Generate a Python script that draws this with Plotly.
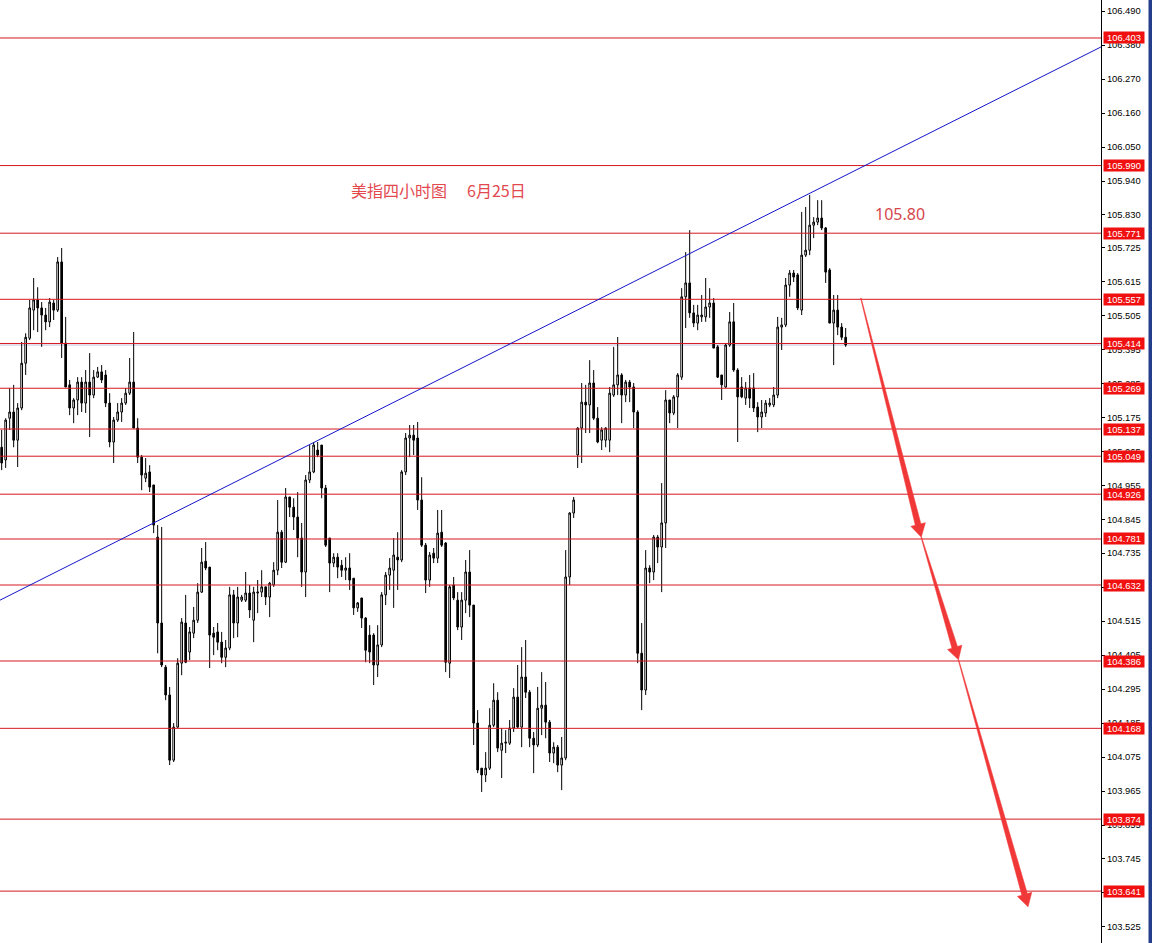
import plotly.graph_objects as go

# ---------------- data ----------------
opens = [105.078, 105.037, 105.172, 105.192, 105.101, 105.205, 105.350, 105.431, 105.522, 105.555,
         105.529, 105.506, 105.484, 105.545, 105.522, 105.678, 105.415, 105.280, 105.205, 105.231,
         105.289, 105.221, 105.289, 105.247, 105.305, 105.322, 105.312, 105.221, 105.095, 105.166,
         105.192, 105.221, 105.253, 105.289, 105.140, 105.046, 104.978, 104.998, 104.956, 104.787,
         104.509, 104.366, 104.276, 104.065, 104.172, 104.379, 104.509, 104.415, 104.476, 104.518,
         104.609, 104.709, 104.690, 104.476, 104.480, 104.447, 104.398, 104.428, 104.600, 104.509,
         104.583, 104.583, 104.606, 104.518, 104.606, 104.609, 104.626, 104.593, 104.632, 104.680,
         104.803, 104.706, 104.917, 104.884, 104.852, 104.784, 104.674, 104.972, 104.998, 105.069,
         105.085, 104.946, 104.784, 104.703, 104.722, 104.696, 104.680, 104.687, 104.654, 104.558,
         104.590, 104.525, 104.470, 104.470, 104.373, 104.438, 104.600, 104.664, 104.680, 104.722,
         104.713, 104.998, 105.108, 105.117, 105.108, 104.907, 104.761, 104.648, 104.735, 104.719,
         104.803, 104.768, 104.379, 104.632, 104.583, 104.496, 104.583, 104.674, 104.567, 104.185,
         104.039, 104.017, 104.039, 104.178, 104.259, 104.097, 104.120, 104.120, 104.169, 104.269,
         104.172, 104.334, 104.285, 104.136, 104.114, 104.233, 104.243, 104.188, 104.088, 104.107,
         104.049, 104.072, 104.658, 104.865, 105.053, 105.140, 105.224, 105.215, 105.286, 105.172,
         105.101, 105.101, 105.101, 105.247, 105.280, 105.312, 105.247, 105.289, 105.273, 105.192,
         104.411, 104.292, 104.687, 104.674, 104.787, 104.755, 104.833, 105.231, 105.189, 105.241,
         105.305, 105.565, 105.610, 105.513, 105.480, 105.500, 105.500, 105.532, 105.545, 105.403,
         105.312, 105.273, 105.409, 105.484, 105.328, 105.273, 105.237, 105.270, 105.270, 105.208,
         105.176, 105.189, 105.215, 105.215, 105.247, 105.467, 105.474, 105.603, 105.642, 105.636,
         105.522, 105.700, 105.716, 105.797, 105.807, 105.820, 105.788, 105.652, 105.480, 105.522,
         105.467, 105.434]
highs = [105.134, 105.172, 105.270, 105.280, 105.221, 105.419, 105.447, 105.555, 105.626, 105.596,
         105.548, 105.529, 105.561, 105.555, 105.694, 105.723, 105.500, 105.296, 105.237, 105.305,
         105.305, 105.328, 105.383, 105.328, 105.338, 105.344, 105.328, 105.253, 105.176, 105.221,
         105.237, 105.270, 105.367, 105.451, 105.172, 105.053, 105.043, 105.020, 104.956, 104.826,
         104.820, 104.373, 104.302, 104.185, 104.395, 104.525, 104.600, 104.496, 104.561, 104.638,
         104.752, 104.771, 104.690, 104.496, 104.509, 104.480, 104.454, 104.626, 104.616, 104.626,
         104.600, 104.674, 104.632, 104.626, 104.648, 104.680, 104.626, 104.642, 104.706, 104.907,
         104.810, 104.946, 104.917, 104.913, 104.933, 104.833, 104.988, 105.085, 105.095, 105.095,
         105.085, 104.956, 104.784, 104.735, 104.735, 104.713, 104.722, 104.735, 104.654, 104.577,
         104.590, 104.528, 104.502, 104.476, 104.502, 104.609, 104.674, 104.719, 104.784, 104.803,
         105.004, 105.124, 105.150, 105.150, 105.160, 104.981, 104.768, 104.739, 104.752, 104.875,
         104.875, 104.771, 104.632, 104.658, 104.609, 104.609, 104.713, 104.745, 104.567, 104.227,
         104.039, 104.091, 104.233, 104.314, 104.285, 104.169, 104.162, 104.195, 104.298, 104.373,
         104.431, 104.454, 104.292, 104.156, 104.302, 104.350, 104.318, 104.195, 104.123, 104.114,
         104.140, 104.745, 104.868, 104.917, 105.143, 105.286, 105.280, 105.360, 105.328, 105.208,
         105.143, 105.143, 105.273, 105.403, 105.435, 105.318, 105.296, 105.296, 105.286, 105.198,
         104.509, 104.745, 104.696, 104.794, 104.794, 104.962, 105.263, 105.231, 105.247, 105.318,
         105.593, 105.710, 105.781, 105.539, 105.539, 105.571, 105.626, 105.593, 105.561, 105.409,
         105.312, 105.415, 105.516, 105.545, 105.334, 105.305, 105.289, 105.312, 105.318, 105.224,
         105.231, 105.231, 105.237, 105.273, 105.500, 105.497, 105.626, 105.652, 105.652, 105.642,
         105.840, 105.856, 105.895, 105.823, 105.878, 105.878, 105.791, 105.658, 105.571, 105.571,
         105.480, 105.464]
lows = [105.004, 105.011, 105.134, 105.078, 105.014, 105.198, 105.312, 105.425, 105.457, 105.451,
        105.403, 105.457, 105.467, 105.490, 105.516, 105.367, 105.273, 105.182, 105.156, 105.182,
        105.192, 105.189, 105.111, 105.237, 105.302, 105.286, 105.208, 105.078, 105.027, 105.160,
        105.160, 105.215, 105.247, 105.140, 105.027, 104.939, 104.965, 104.933, 104.800, 104.411,
        104.366, 104.259, 104.049, 104.059, 104.169, 104.340, 104.379, 104.389, 104.460, 104.509,
        104.606, 104.680, 104.363, 104.405, 104.421, 104.379, 104.366, 104.421, 104.460, 104.463,
        104.577, 104.577, 104.525, 104.447, 104.541, 104.593, 104.567, 104.528, 104.626, 104.664,
        104.687, 104.703, 104.852, 104.810, 104.722, 104.626, 104.593, 104.962, 104.994, 105.046,
        104.913, 104.755, 104.609, 104.690, 104.654, 104.658, 104.648, 104.616, 104.535, 104.545,
        104.493, 104.382, 104.379, 104.308, 104.334, 104.431, 104.567, 104.616, 104.558, 104.616,
        104.706, 104.988, 105.046, 105.053, 104.875, 104.755, 104.606, 104.626, 104.703, 104.703,
        104.755, 104.350, 104.331, 104.583, 104.486, 104.454, 104.541, 104.528, 104.114, 104.023,
        103.962, 103.994, 104.033, 104.172, 104.091, 104.007, 104.088, 104.114, 104.156, 104.169,
        104.107, 104.266, 104.107, 104.023, 104.107, 104.146, 104.136, 104.059, 104.055, 104.026,
        103.968, 104.065, 104.632, 104.849, 105.011, 105.027, 105.124, 105.124, 105.166, 105.091,
        105.069, 105.078, 105.062, 105.241, 105.247, 105.156, 105.224, 105.224, 105.140, 104.379,
        104.227, 104.276, 104.638, 104.648, 104.703, 104.609, 104.752, 105.156, 105.182, 105.140,
        105.296, 105.464, 105.497, 105.467, 105.457, 105.484, 105.484, 105.497, 105.399, 105.302,
        105.231, 105.270, 105.403, 105.322, 105.095, 105.237, 105.215, 105.205, 105.192, 105.127,
        105.140, 105.176, 105.208, 105.208, 105.237, 105.393, 105.467, 105.565, 105.613, 105.522,
        105.506, 105.694, 105.700, 105.755, 105.797, 105.781, 105.610, 105.480, 105.344, 105.441,
        105.425, 105.403]
closes = [105.027, 105.166, 105.192, 105.101, 105.205, 105.350, 105.434, 105.529, 105.555, 105.529,
          105.506, 105.484, 105.548, 105.522, 105.678, 105.415, 105.273, 105.205, 105.231, 105.289,
          105.221, 105.289, 105.247, 105.305, 105.322, 105.296, 105.221, 105.095, 105.166, 105.192,
          105.221, 105.253, 105.289, 105.140, 105.046, 104.988, 104.994, 104.949, 104.826, 104.509,
          104.373, 104.276, 104.065, 104.172, 104.379, 104.512, 104.382, 104.480, 104.518, 104.609,
          104.706, 104.687, 104.470, 104.463, 104.447, 104.398, 104.428, 104.600, 104.509, 104.593,
          104.593, 104.606, 104.551, 104.609, 104.609, 104.626, 104.593, 104.638, 104.680, 104.803,
          104.706, 104.917, 104.884, 104.852, 104.784, 104.674, 104.972, 104.998, 105.085, 105.053,
          104.946, 104.761, 104.703, 104.722, 104.690, 104.680, 104.687, 104.648, 104.558, 104.574,
          104.525, 104.421, 104.415, 104.373, 104.438, 104.600, 104.664, 104.687, 104.729, 104.713,
          104.998, 105.108, 105.117, 105.101, 104.907, 104.761, 104.648, 104.729, 104.719, 104.800,
          104.761, 104.382, 104.626, 104.590, 104.496, 104.583, 104.674, 104.567, 104.185, 104.033,
          104.017, 104.039, 104.178, 104.259, 104.104, 104.120, 104.123, 104.169, 104.269, 104.172,
          104.334, 104.285, 104.136, 104.114, 104.233, 104.243, 104.188, 104.088, 104.107, 104.049,
          104.072, 104.658, 104.865, 104.907, 105.140, 105.224, 105.215, 105.286, 105.172, 105.095,
          105.134, 105.140, 105.253, 105.280, 105.312, 105.247, 105.289, 105.273, 105.192, 104.411,
          104.292, 104.687, 104.674, 104.787, 104.755, 104.833, 105.231, 105.189, 105.241, 105.312,
          105.565, 105.610, 105.513, 105.480, 105.506, 105.506, 105.532, 105.545, 105.399, 105.305,
          105.280, 105.409, 105.484, 105.328, 105.241, 105.241, 105.270, 105.237, 105.205, 105.176,
          105.192, 105.221, 105.221, 105.247, 105.467, 105.474, 105.603, 105.642, 105.629, 105.529,
          105.700, 105.716, 105.797, 105.807, 105.820, 105.788, 105.645, 105.480, 105.522, 105.467,
          105.434, 105.409]

levels = [106.403, 105.990, 105.771, 105.557, 105.414, 105.269, 105.137, 105.049,
          104.926, 104.781, 104.632, 104.386, 104.168, 103.874, 103.641]

tick_vals = [106.490, 106.380, 106.270, 106.160, 106.050, 105.940, 105.830, 105.725,
             105.615, 105.505, 105.395, 105.285, 105.175, 105.065, 104.955, 104.845,
             104.735, 104.625, 104.515, 104.405, 104.295, 104.185, 104.075, 103.965,
             103.855, 103.745, 103.635, 103.525]

title_text = "美指四小时图"
date_text = "6月25日"
target_text = "105.80"

# trend line (bar index, price) and projected path arrows (bar index, price)
trend_start = (-0.42, 104.583)
trend_end = (274.83, 106.374)
arrows = [((214.8, 105.561), (229.9, 104.787)),
          ((229.9, 104.787), (239.2, 104.390)),
          ((239.2, 104.390), (256.6, 103.590))]

# ---------------- layout constants ----------------
W, H = 1152, 943
PLOT_W = 1101
X0, X1 = -0.4175, 274.83
Y0, Y1 = 103.473, 106.526

n = len(closes)
assert len(opens) == len(highs) == len(lows) == n
idx = list(range(n))

fig = go.Figure()
fig.add_trace(go.Candlestick(
    x=idx, open=opens, high=highs, low=lows, close=closes,
    increasing=dict(line=dict(color="black", width=1), fillcolor="white"),
    decreasing=dict(line=dict(color="black", width=1), fillcolor="black"),
    whiskerwidth=0, showlegend=False, hoverinfo="skip",
))

shapes = []
LINE_RED = "rgb(214,24,32)"
for lv in levels:
    shapes.append(dict(type="line", xref="paper", x0=0, x1=1, yref="y", y0=lv, y1=lv,
                       line=dict(color=LINE_RED, width=1), layer="above"))
# bid line
shapes.append(dict(type="line", xref="paper", x0=0, x1=1, yref="y", y0=closes[-1], y1=closes[-1],
                   line=dict(color="rgb(200,192,220)", width=1), layer="below"))
# trend line
shapes.append(dict(type="line", xref="x", yref="y", x0=trend_start[0], y0=trend_start[1],
                   x1=trend_end[0], y1=trend_end[1], line=dict(color="rgb(20,20,200)", width=1),
                   layer="above"))


def to_px(i, p):
    return ((i - X0) / (X1 - X0) * PLOT_W, (Y1 - p) / (Y1 - Y0) * H)


def to_data(px, py):
    return (X0 + px / PLOT_W * (X1 - X0), Y1 - py / H * (Y1 - Y0))


def arrow_path(a, b, head_len=13.0, head_half=7.5, w0=0.3, w1=2.9):
    ax, ay = to_px(*a)
    bx, by = to_px(*b)
    dx, dy = bx - ax, by - ay
    L = (dx * dx + dy * dy) ** 0.5
    ux, uy = dx / L, dy / L
    nx, ny = -uy, ux
    cx, cy = bx - ux * head_len, by - uy * head_len
    pts = [(ax + nx * w0, ay + ny * w0), (cx + nx * w1, cy + ny * w1),
           (cx + nx * head_half, cy + ny * head_half), (bx, by),
           (cx - nx * head_half, cy - ny * head_half), (cx - nx * w1, cy - ny * w1),
           (ax - nx * w0, ay - ny * w0)]
    d = []
    for k, (px, py) in enumerate(pts):
        xx, yy = to_data(px, py)
        d.append(("M" if k == 0 else "L") + f"{xx:.4f},{yy:.5f}")
    return " ".join(d) + " Z"


ARROW_RED = "rgb(240,56,56)"
for a, b in arrows:
    shapes.append(dict(type="path", xref="x", yref="y", path=arrow_path(a, b),
                       fillcolor=ARROW_RED, line=dict(color=ARROW_RED, width=0.5), layer="above"))

# blue window border on the far right
shapes.append(dict(type="rect", xref="paper", yref="paper", x0=1148.5 / PLOT_W, x1=1153 / PLOT_W,
                   y0=0, y1=1, fillcolor="rgb(36,62,140)", line=dict(width=0), layer="above"))

annotations = []
for lv in levels:
    annotations.append(dict(xref="paper", yref="y", x=1102.5 / PLOT_W, y=lv, xanchor="left",
                            yanchor="middle", text=f"{lv:.3f}", showarrow=False,
                            bgcolor="rgb(240,16,16)", width=40, height=11, borderpad=0,
                            font=dict(family="Liberation Sans, Arial, sans-serif", size=9.4,
                                      color="white")))

TXT_RED = "rgb(226,72,78)"
annotations.append(dict(xref="paper", yref="paper", x=349 / PLOT_W, y=1 - 190 / H,
                        xanchor="left", yanchor="middle", text=title_text, showarrow=False,
                        font=dict(family="Noto Sans CJK SC", size=16, color=TXT_RED)))
annotations.append(dict(xref="paper", yref="paper", x=465 / PLOT_W, y=1 - 190 / H,
                        xanchor="left", yanchor="middle", text=date_text, showarrow=False,
                        font=dict(family="Noto Sans CJK SC", size=16, color=TXT_RED)))
annotations.append(dict(xref="paper", yref="paper", x=873 / PLOT_W, y=1 - 214 / H,
                        xanchor="left", yanchor="middle", text=target_text, showarrow=False,
                        font=dict(family="Noto Sans", size=16, color="rgb(214,70,76)")))

fig.update_layout(
    width=W, height=H, autosize=False,
    margin=dict(l=0, r=W - PLOT_W, t=0, b=0, pad=0),
    paper_bgcolor="white", plot_bgcolor="white",
    showlegend=False, boxgap=0.4,
    shapes=shapes, annotations=annotations,
    xaxis=dict(range=[X0, X1], visible=False, rangeslider=dict(visible=False), fixedrange=True),
    yaxis=dict(range=[Y0, Y1], side="right", tickmode="array", tickvals=tick_vals,
               ticktext=[f"{v:.3f}" for v in tick_vals], ticks="outside", ticklen=3,
               tickcolor="black", tickwidth=1, showline=True, linecolor="black", linewidth=1,
               showgrid=False, zeroline=False,
               tickfont=dict(family="Liberation Sans, Arial, sans-serif", size=9.4, color="black"),
               fixedrange=True),
)

fig.write_html("out.html", config={"displayModeBar": False},
               post_script="document.body.style.margin='0';document.body.style.overflow='hidden';")
